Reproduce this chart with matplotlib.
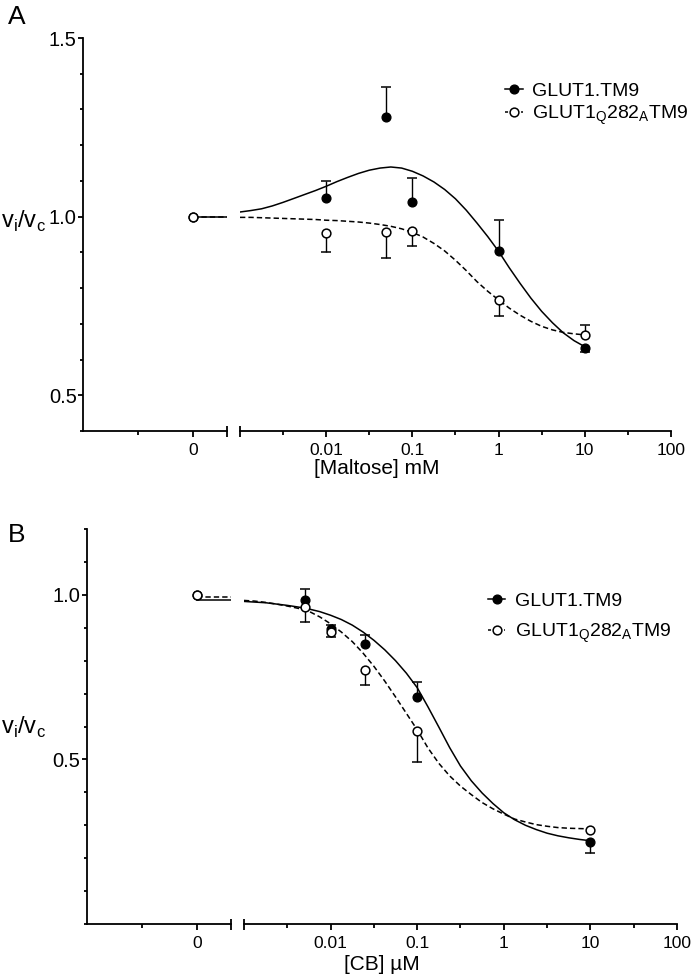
import numpy as np
import matplotlib
matplotlib.use("Agg")
import matplotlib.pyplot as plt
from matplotlib.lines import Line2D
from matplotlib.ticker import FixedLocator, MultipleLocator

plt.rcParams['font.family'] = 'Liberation Sans'
plt.rcParams['mathtext.fontset'] = 'custom'
plt.rcParams['mathtext.rm'] = 'Liberation Sans'

# ---- panel A: maltose ----
a_x = np.array([0.01, 0.05, 0.1, 1, 10])
a_wt_y = np.array([1.051, 1.278, 1.041, 0.903, 0.631])
a_wt_up = np.array([0.050, 0.084, 0.068, 0.089, 0.0])
a_wt_lo = np.array([0.0, 0.0, 0.0, 0.0, 0.009])
a_mut_y = np.array([0.954, 0.957, 0.959, 0.767, 0.669])
a_mut_up = np.array([0.0, 0.0, 0.0, 0.0, 0.028])
a_mut_lo = np.array([0.053, 0.073, 0.042, 0.044, 0.0])
a_zero_wt = 1.0
a_zero_mut = 1.0

# ---- panel B: cytochalasin B ----
b_x = np.array([0.005, 0.01, 0.025, 0.1, 10])
b_wt_y = np.array([0.983, 0.895, 0.851, 0.690, 0.250])
b_wt_up = np.array([0.034, 0.012, 0.027, 0.044, 0.0])
b_wt_lo = np.array([0.0, 0.0, 0.0, 0.0, 0.033])
b_mut_y = np.array([0.962, 0.886, 0.773, 0.586, 0.286])
b_mut_up = np.array([0.0, 0.0, 0.0, 0.0, 0.0])
b_mut_lo = np.array([0.043, 0.015, 0.047, 0.094, 0.0])
b_zero_wt = 1.0
b_zero_mut = 1.0

# fitted curves
curve_x = [0.001, 0.00133, 0.00178, 0.00237, 0.00316, 0.00422, 0.00562, 0.0075,
           0.01, 0.0133, 0.0178, 0.0237, 0.0316, 0.0422, 0.0562, 0.075,
           0.1, 0.133, 0.178, 0.237, 0.316, 0.422, 0.562, 0.75,
           1, 1.33, 1.78, 2.37, 3.16, 4.22, 5.62, 7.5, 10]
a_wt_fit = [1.013, 1.017, 1.022, 1.030, 1.040, 1.051, 1.062, 1.073,
            1.085, 1.098, 1.110, 1.121, 1.130, 1.136, 1.139, 1.136,
            1.127, 1.114, 1.097, 1.076, 1.050, 1.018, 0.982, 0.944,
            0.903, 0.857, 0.813, 0.772, 0.735, 0.703, 0.675, 0.653, 0.636]
a_mut_fit = [0.998, 0.998, 0.997, 0.996, 0.995, 0.994, 0.993, 0.992,
             0.990, 0.989, 0.987, 0.985, 0.982, 0.978, 0.973, 0.966,
             0.956, 0.943, 0.925, 0.904, 0.878, 0.849, 0.818, 0.791,
             0.767, 0.744, 0.724, 0.707, 0.693, 0.683, 0.676, 0.672, 0.669]
b_wt_fit = [0.980, 0.978, 0.976, 0.972, 0.968, 0.963, 0.957, 0.949,
            0.938, 0.925, 0.908, 0.887, 0.862, 0.833, 0.800, 0.762,
            0.718, 0.660, 0.598, 0.536, 0.480, 0.435, 0.398, 0.366,
            0.338, 0.317, 0.300, 0.287, 0.276, 0.268, 0.262, 0.257, 0.253]
b_mut_fit = [0.983, 0.981, 0.977, 0.972, 0.966, 0.959, 0.950, 0.933,
             0.912, 0.887, 0.858, 0.823, 0.783, 0.738, 0.690, 0.640,
             0.590, 0.535, 0.488, 0.450, 0.419, 0.393, 0.369, 0.350,
             0.334, 0.319, 0.310, 0.302, 0.297, 0.293, 0.291, 0.290, 0.289]
# fit value drawn across the x=0 segment
zero_seg_x = [0, 0.62]
a_wt_zero_fit = 1.0
a_mut_zero_fit = 1.0
b_wt_zero_fit = 0.983
b_mut_zero_fit = 0.992

lw_axis = 1.3
ms = 6.3


def err_bars(ax, x, y, lo, up):
    for sign, e in ((1, up), (-1, lo)):
        m = e > 0
        if not m.any():
            continue
        ends = y[m] + sign * e[m]
        ax.vlines(x[m], y[m], ends, color='k', lw=1.0, zorder=2)
        ax.plot(x[m], ends, ls='none', marker='_', ms=6.5, mew=1.1,
                color='k', zorder=2)


def make_panel(rect_l, rect_r, ylim, ymajor, xlab, xlab_pos, ylab_pos, letter, letter_y,
               zero_wt, zero_mut, x, wt_y, wt_up, wt_lo, mut_y, mut_up, mut_lo,
               wt_fit, mut_fit, wt_zfit, mut_zfit, leg_pos, leg_space):
    axl = fig.add_axes(rect_l)
    axr = fig.add_axes(rect_r, sharey=axl)

    for ax in (axl, axr):
        for s in ('top', 'right'):
            ax.spines[s].set_visible(False)
        ax.spines['bottom'].set_linewidth(lw_axis)
        ax.spines['left'].set_linewidth(lw_axis)
        ax.tick_params(axis='x', which='major', length=4.3, width=lw_axis, pad=4.5,
                       labelsize=12.5)
        ax.tick_params(axis='x', which='minor', length=2.9, width=lw_axis)
    axr.spines['left'].set_visible(False)
    axr.tick_params(axis='y', which='both', left=False, labelleft=False)
    axl.tick_params(axis='y', which='major', length=3.8, width=lw_axis, pad=0.8,
                    labelsize=14.5)
    axl.tick_params(axis='y', which='minor', length=2.4, width=lw_axis)

    axl.set_ylim(*ylim)
    axl.yaxis.set_major_locator(FixedLocator(ymajor))
    axl.yaxis.set_minor_locator(MultipleLocator(0.1))
    axl.set_yticklabels([f"{v:.1f}" for v in ymajor])

    # x = 0 segment
    axl.set_xlim(-2, 0.62)
    axl.xaxis.set_major_locator(FixedLocator([0]))
    axl.xaxis.set_minor_locator(FixedLocator([-1]))
    axl.set_xticklabels(['0'])
    axl.plot(zero_seg_x, [wt_zfit, wt_zfit], color='k', lw=1.1, zorder=1)
    axl.plot(zero_seg_x, [mut_zfit, mut_zfit], color='k', lw=1.1,
             dashes=(3.5, 2), zorder=1)
    axl.plot([0], [zero_wt], 'o', color='k', ms=ms, zorder=3)
    axl.plot([0], [zero_mut], 'o', mfc='white', mec='k', mew=1.1, ms=ms, zorder=4)

    # log segment
    axr.set_xscale('log')
    axr.set_xlim(0.001, 100)
    axr.xaxis.set_major_locator(FixedLocator([0.01, 0.1, 1, 10, 100]))
    axr.xaxis.set_minor_locator(FixedLocator([10 ** -2.5, 10 ** -1.5, 10 ** -0.5,
                                              10 ** 0.5, 10 ** 1.5]))
    axr.set_xticklabels(['0.01', '0.1', '1', '10', '100'])
    axr.plot(curve_x, wt_fit, color='k', lw=1.1, zorder=1)
    axr.plot(curve_x, mut_fit, color='k', lw=1.1, dashes=(3.5, 2), zorder=1)
    err_bars(axr, x, wt_y, wt_lo, wt_up)
    err_bars(axr, x, mut_y, mut_lo, mut_up)
    axr.plot(x, wt_y, 'o', color='k', ms=ms, zorder=3)
    axr.plot(x, mut_y, 'o', mfc='white', mec='k', mew=1.1, ms=ms, zorder=4)

    # break marks
    for ax, xb in ((axl, 1), (axr, 0)):
        ax.plot([xb, xb], [-0.014, 0.014], transform=ax.transAxes, color='k',
                lw=lw_axis, clip_on=False, solid_capstyle='butt')

    axl.set_ylabel(r"v$_\mathregular{i}$/v$_\mathregular{c}$", rotation=0,
                   fontsize=17, ha='center', va='center')
    axl.yaxis.set_label_coords(*ylab_pos)
    axr.set_xlabel(xlab, fontsize=15, va='top')
    axr.xaxis.set_label_coords(*xlab_pos)

    handles = [Line2D([], [], color='k', lw=1.1, marker='o', ms=ms),
               Line2D([], [], color='k', lw=1.1, dashes=(2, 1.5), marker='o',
                      mfc='white', mec='k', mew=1.1, ms=ms)]
    labels = ["GLUT1.TM9", r"GLUT1$_\mathregular{Q}$282$_\mathregular{A}$TM9"]
    fig.legend(handles, labels, loc='upper left', bbox_to_anchor=leg_pos,
               frameon=False, fontsize=14, handlelength=0.9, handletextpad=0.5,
               borderpad=0, borderaxespad=0, labelspacing=leg_space)
    fig.text(0.0115, letter_y, letter, fontsize=19, ha='left', va='top')


fig = plt.figure(figsize=(6.93, 9.8), dpi=100)

make_panel([0.1198, 0.5602, 0.2078, 0.4010], [0.3463, 0.5602, 0.6219, 0.4010],
           (0.4, 1.5), [0.5, 1.0, 1.5], "[Maltose] mM", (0.318, -0.071),
           (-0.417, 0.534), 'A', 0.9949, a_zero_wt, a_zero_mut,
           a_x, a_wt_y, a_wt_up, a_wt_lo, a_mut_y, a_mut_up, a_mut_lo,
           a_wt_fit, a_mut_fit, a_wt_zero_fit, a_mut_zero_fit,
           (0.729, 0.9163), 0.18)

make_panel([0.1255, 0.0571, 0.2078, 0.4031], [0.3521, 0.0571, 0.6248, 0.4031],
           (0.0, 1.2), [0.5, 1.0], "[CB] µM", (0.319, -0.078),
           (-0.444, 0.499), 'B', 0.4663, b_zero_wt, b_zero_mut,
           b_x, b_wt_y, b_wt_up, b_wt_lo, b_mut_y, b_mut_up, b_mut_lo,
           b_wt_fit, b_mut_fit, b_wt_zero_fit, b_mut_zero_fit,
           (0.704, 0.396), 0.6)

fig.savefig("out.png", dpi=100)
